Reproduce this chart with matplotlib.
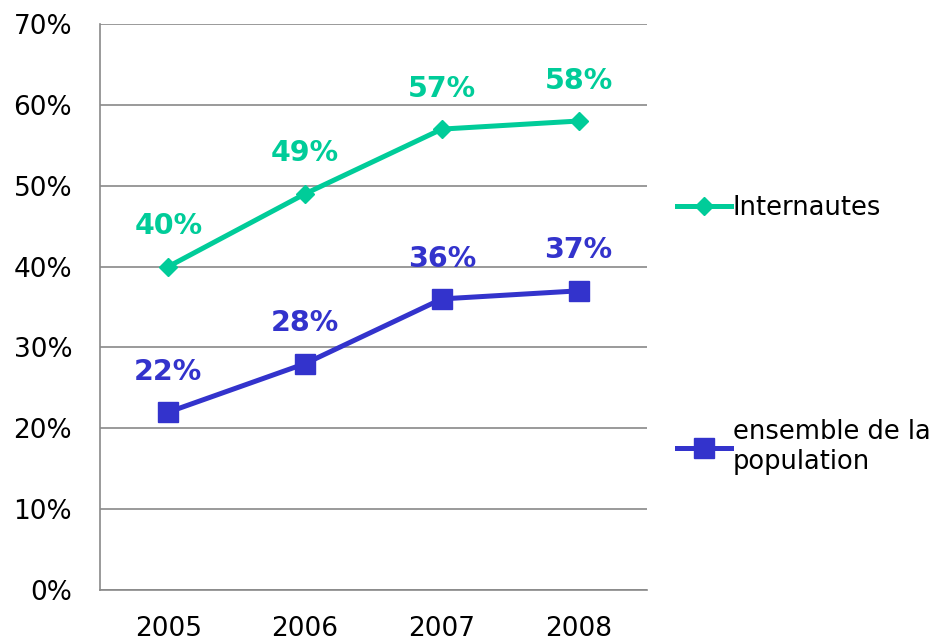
import matplotlib
matplotlib.use("Agg")
import matplotlib.pyplot as plt
import numpy as np

# donnees
annees = ["2005", "2006", "2007", "2008"]
internautes = [40, 49, 57, 58]
population = [22, 28, 36, 37]
yticks = [0, 10, 20, 30, 40, 50, 60, 70]

vert = "#00CC99"
bleu = "#3333CC"
gris = "#898989"

plt.rcParams['font.family'] = ['DejaVu Sans']

fig = plt.figure(figsize=(9.39, 6.43), dpi=100)
ax = fig.add_axes([0.1065, 0.0824, 0.689 - 0.1065, 0.9627 - 0.0824])

x = np.arange(len(annees))
l1, = ax.plot(x, internautes, color=vert, lw=3.6, marker='D', ms=9, label="Internautes")
l2, = ax.plot(x, population, color=bleu, lw=3.6, marker='s', ms=14, label="ensemble de la\npopulation")

for xi, v in zip(x, internautes):
    ax.annotate(f"{v}%", (xi, v), xytext=(0, 19), textcoords='offset points',
                ha='center', va='bottom', fontsize=20.5, fontweight='bold', color=vert)
for xi, v in zip(x, population):
    ax.annotate(f"{v}%", (xi, v), xytext=(0, 19), textcoords='offset points',
                ha='center', va='bottom', fontsize=20.5, fontweight='bold', color=bleu)

ax.set_xlim(-0.5, 3.5)
ax.set_ylim(0, 70)
ax.set_yticks(yticks)
ax.set_yticklabels([f"{t}%" for t in yticks])
ax.set_xticks(x)
ax.set_xticklabels(annees)
ax.tick_params(axis='both', length=0, labelsize=19)
ax.tick_params(axis='y', pad=20)
ax.tick_params(axis='x', pad=19)

ax.yaxis.grid(True, color=gris, lw=1.2)
ax.set_axisbelow(True)
for s in ['top', 'right']:
    ax.spines[s].set_visible(False)
for s in ['left', 'bottom']:
    ax.spines[s].set_color(gris)
    ax.spines[s].set_linewidth(1.2)

fig.legend(handles=[l1], loc='center left', bbox_to_anchor=(0.696, 0.676),
           frameon=False, fontsize=18.5, handlelength=2.1, handletextpad=0.08)
fig.legend(handles=[l2], loc='center left', bbox_to_anchor=(0.696, 0.305),
           frameon=False, fontsize=18.5, handlelength=2.1, handletextpad=0.08)

fig.savefig("out.png", dpi=100)
